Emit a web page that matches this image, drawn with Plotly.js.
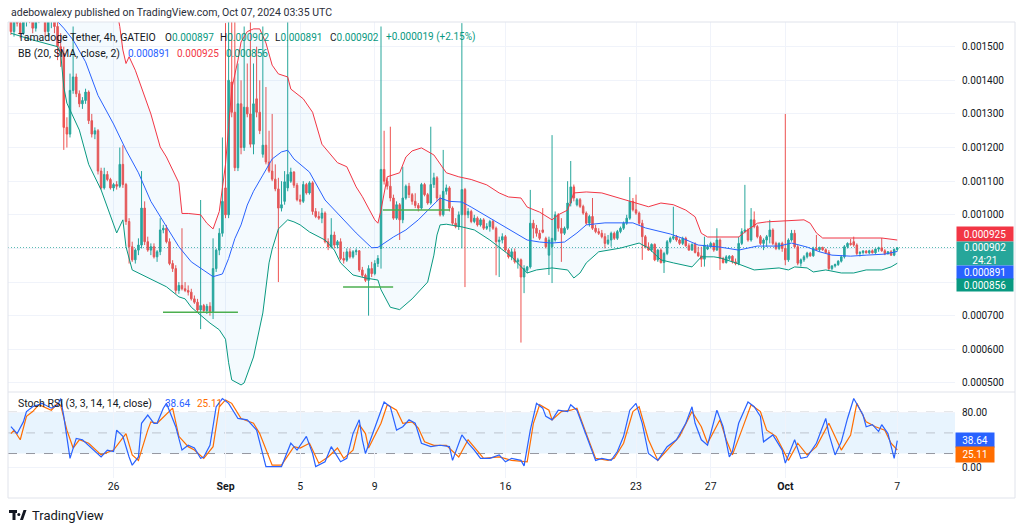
<!DOCTYPE html>
<html><head><meta charset="utf-8">
<script src="https://cdn.plot.ly/plotly-3.0.1.min.js"></script>
<style>html,body{margin:0;padding:0;background:#fff}#chart{width:1024px;height:530px}</style>
</head><body><div id="chart"></div>
<script>
// ---- data (prices in units of 1e-6 USDT), 4h candles starting 2024-08-20 12:00 UTC ----
const startTime = Date.UTC(2024,7,20,12,0,0);
const stepHours = 4;
const priceUnit = 1e-6;

const openV = [
1610,1545,1585,1570,1540,1580,1600,1590,1555,1590,1605,1595,1545,1575,1590,
1560,1500,1480,1260,1240,1370,1410,1360,1330,1340,1365,1280,1240,1250,1130,
1080,1120,1105,1080,1090,1085,1150,1090,980,905,866,895,910,1020,920,
895,905,875,890,955,960,920,855,840,775,790,780,775,770,750,
740,717,730,715,728,712,840,895,945,1080,1000,1395,1305,1140,1330,
1200,1320,1300,1210,1345,1305,1180,1207,1157,1130,1106,1077,1020,1040,1080,
1100,1127,1088,1045,1040,1090,1065,1095,1010,995,990,1005,920,905,940,
910,920,870,865,890,875,890,893,836,820,805,840,825,855,900,
1135,1100,1085,1050,990,1030,985,1050,1085,1060,1040,1028,1020,1090,1060,
1035,1090,1110,1050,1000,1070,1080,1020,975,965,1000,1075,1000,1010,980,
990,970,985,960,965,980,960,920,925,935,895,875,890,860,866,
815,835,845,975,960,945,955,930,880,905,925,1000,960,945,960,
1035,1083,1030,1045,1025,1005,975,995,960,950,945,935,915,925,945,
930,950,960,975,990,1040,1015,1005,975,935,905,895,912,866,895,
858,885,920,930,935,925,915,930,908,895,912,888,878,868,898,
905,915,895,925,870,858,870,877,860,855,915,950,955,925,985,
965,935,915,925,935,955,915,900,915,900,866,925,945,905,856,
866,875,886,878,900,896,903,896,888,840,848,852,862,875,905,
915,920,910,885,888,892,887,893,887,898,902,893,884,890,880,897];

const highV = [
1650,1600,1615,1590,1595,1630,1640,1610,1600,1625,1640,1615,1590,1610,1620,
1585,1540,1500,1290,1420,1560,1420,1370,1350,1375,1370,1300,1260,1255,1140,
1140,1130,1110,1095,1100,1200,1207,1095,990,920,900,930,1130,1040,935,
915,915,895,990,970,970,930,865,850,800,960,800,790,780,760,
750,1044,735,735,740,930,900,960,1230,1570,1620,1600,1580,1450,1400,
1560,1450,1600,1450,1500,1400,1560,1380,1250,1300,1150,1110,1100,1130,1620,
1140,1130,1095,1060,1100,1095,1100,1100,1020,1010,1020,1010,930,990,950,
925,930,890,900,900,895,900,895,845,825,850,860,865,880,1560,
1250,1110,1262,1060,1040,1035,1143,1090,1095,1065,1064,1035,1095,1095,1065,
1262,1125,1115,1060,1193,1090,1085,1025,990,1010,1570,1080,1020,1015,1000,
995,990,990,975,985,985,965,935,945,940,900,900,900,872,870,
850,848,1074,985,970,955,1020,935,935,1237,1010,1005,990,965,1100,
1160,1090,1050,1050,1030,1010,1000,1050,970,960,955,945,940,950,950,
955,965,980,1000,1112,1050,1060,1010,985,940,918,915,915,898,900,
890,925,935,1024,940,930,935,935,915,915,918,905,905,935,912,
920,918,960,930,875,880,880,880,870,935,960,1089,960,1020,1010,
970,940,930,940,985,960,920,918,920,1300,930,955,955,910,870,
880,890,890,905,940,905,905,900,895,850,855,865,880,910,918,
928,935,915,892,895,895,896,897,900,905,931,898,892,895,900,902];

const lowV = [
1535,1530,1560,1525,1535,1560,1570,1540,1545,1570,1580,1530,1530,1555,1540,
1460,1440,1193,1200,1230,1360,1350,1320,1315,1330,1270,1230,1225,1120,1075,
1075,1100,1075,1070,1075,1080,1080,970,855,860,855,880,900,910,890,
880,870,860,880,945,915,850,830,765,765,775,770,760,745,735,
710,660,710,705,700,690,830,880,935,990,990,1290,1130,1130,1180,
1190,1290,1200,1180,1290,1240,1170,1150,1125,1100,1070,800,1010,1030,1070,
1095,1080,1040,1030,1035,1060,1060,1000,990,985,975,915,895,900,900,
900,865,855,860,870,870,880,830,815,800,700,815,820,845,840,
1090,1075,1040,985,985,925,975,1045,1050,1030,1020,1010,1015,1055,1030,
1030,1080,1040,995,995,1060,1010,970,960,955,900,785,990,975,975,
965,965,955,955,950,955,820,815,915,890,870,865,855,840,620,
767,826,840,930,935,925,945,900,821,797,920,950,860,940,955,
1025,1040,1025,1020,1000,970,965,955,945,940,930,900,910,905,925,
925,945,955,970,985,1010,1000,970,866,900,893,890,862,860,855,
827,880,915,925,920,910,910,905,893,893,885,875,845,846,895,
900,890,893,836,855,855,865,855,850,850,910,945,920,920,960,
930,910,895,905,915,910,895,895,890,850,860,920,900,850,846,
860,870,875,875,893,890,893,885,836,835,843,848,858,870,900,
908,905,880,876,882,885,883,885,884,890,890,880,882,878,877,891];

const closeV = [
1545,1585,1570,1540,1580,1600,1590,1555,1590,1605,1595,1545,1575,1590,1560,
1500,1480,1260,1240,1370,1410,1360,1330,1340,1365,1280,1240,1250,1130,1080,
1120,1105,1080,1090,1085,1150,1090,980,905,866,895,910,1020,920,895,
905,875,890,955,960,920,855,840,775,790,780,775,770,750,740,
717,730,715,728,712,840,895,945,1040,1000,1400,1305,1140,1330,1200,
1320,1300,1210,1330,1305,1250,1207,1157,1130,1106,1077,1020,1030,1098,1120,
1127,1088,1045,1040,1090,1065,1095,1010,995,990,1005,920,905,940,910,
920,870,865,890,875,890,893,836,820,805,840,825,855,870,1135,
1100,1085,1050,990,1030,985,1050,1085,1060,1040,1028,1020,1090,1060,1035,
1090,1110,1050,1000,1070,1080,1020,975,965,1000,1075,1000,1010,980,990,
970,985,960,965,980,960,920,925,935,895,875,890,860,866,815,
840,845,975,960,945,930,948,905,925,930,1000,960,945,960,1035,
1083,1050,1045,1025,1005,975,995,960,950,945,935,915,925,945,930,
950,960,975,990,1040,1015,1005,975,935,905,895,912,866,895,858,
885,920,930,935,925,915,930,908,895,912,888,878,868,910,905,
915,895,925,870,858,875,877,860,855,915,950,955,925,985,965,
935,915,925,935,955,915,900,915,900,866,925,945,905,856,866,
875,886,878,900,896,903,896,888,840,848,852,862,875,905,915,
912,910,885,888,892,887,893,887,898,902,893,884,890,880,897,902];

// Bollinger Bands (20, SMA, close, 2): candle index -> value
const bbUpperIdx = [0,8,16,20,26,32,34,35,36,37,38,40,45,48,50,54,55,57,61,63,65,66,67,68,69,70,71,73,74,76,78,80,81,82,84,86,89,90,94,97,100,105,108,111,113,117,118,119,121,125,127,129,132,136,140,144,148,153,157,160,164,166,170,174,176,179,181,185,190,198,201,205,209,213,217,220,222,224,234,236,240,243,255,257,259,261,280,285];
const bbUpperVal = [1650,1645,1635,1665,1680,1650,1610,1560,1490,1450,1470,1430,1300,1202,1172,1095,1004,1004,1000,975,958,985,1010,1080,1150,1260,1374,1460,1514,1545,1553,1553,1530,1511,1445,1419,1410,1374,1345,1305,1210,1155,1143,1083,1054,985,975,1014,1113,1125,1172,1190,1199,1178,1125,1113,1105,1089,1065,1053,1050,1023,1008,985,1000,1014,1065,1068,1065,1044,1035,1024,1035,1030,1014,994,945,934,934,949,975,979,985,975,946,931,931,925];
const bbBasisIdx = [0,8,14,17,20,24,28,33,37,41,45,50,54,58,62,65,68,70,72,74,76,78,81,84,87,89,91,93,96,101,106,111,116,118,123,127,131,135,138,141,145,148,155,162,166,170,174,178,182,185,191,200,204,212,216,221,228,234,240,247,251,256,260,264,270,275,281,285];
const bbBasisVal = [1590,1590,1585,1555,1520,1455,1355,1270,1193,1125,1040,965,905,860,835,816,824,870,929,970,1029,1070,1118,1166,1187,1192,1166,1150,1127,1044,994,946,902,903,934,955,985,1023,1050,1040,1038,1023,985,946,925,919,916,919,946,970,976,976,961,943,930,910,904,895,907,907,916,904,890,880,877,880,883,891];
const bbLowerIdx = [0,7,15,16,17,18,22,25,29,32,34,36,37,39,45,50,54,56,58,61,64,67,69,70,71,74,75,78,81,83,84,86,89,91,93,96,99,101,104,106,110,114,118,119,122,125,129,134,136,137,138,140,145,149,154,157,161,166,169,174,179,181,183,185,189,196,202,205,209,213,219,222,226,228,233,239,247,250,252,256,258,262,267,271,275,280,283,285];
const bbLowerVal = [1540,1520,1500,1480,1380,1332,1252,1150,1074,1000,946,985,905,836,810,786,756,750,725,700,678,658,630,560,509,494,500,577,708,857,898,958,985,979,970,949,934,925,895,857,821,812,806,777,725,718,750,800,880,940,970,972,964,955,925,904,875,827,836,842,836,812,827,857,890,901,916,901,866,857,845,875,875,872,857,836,842,836,845,842,830,836,827,827,836,836,845,856];

// Stoch RSI (3, 3, 14, 14, close): candle index -> value
const stochKIdx = [0,2,4,5,7,10,13,15,16,17,19,21,23,25,29,31,33,34,36,38,39,41,42,44,46,47,49,50,53,55,57,59,61,62,64,66,68,70,73,76,79,82,87,90,92,95,97,98,101,103,106,108,110,112,113,114,117,120,122,124,126,128,130,132,135,138,141,142,145,147,149,151,154,157,159,161,164,165,167,169,171,172,174,176,179,180,182,184,186,188,190,193,195,197,199,201,203,205,208,211,214,217,219,220,222,224,227,229,231,232,234,237,239,241,242,245,248,249,252,254,256,259,262,263,265,267,269,271,274,275,277,279,280,282,284,285];
const stochKVal = [59,49,66,81,88,93,86,90,100,74,13,42,40,32,15,25,23,54,45,15,3,15,64,76,64,64,86,93,59,25,32,28,13,15,32,88,100,93,71,69,54,1,1,35,25,45,20,1,8,30,8,13,49,69,40,20,59,95,88,54,59,69,64,35,30,32,30,10,47,35,25,13,13,18,8,13,10,2,54,93,86,74,69,83,81,91,83,59,35,10,13,10,23,45,83,93,64,20,10,30,40,64,88,64,40,32,83,59,15,23,64,95,88,74,37,47,25,6,40,13,15,35,71,49,18,37,71,100,76,59,62,52,62,49,13,38.64];
const stochDIdx = [0,1,3,5,7,9,13,15,16,18,20,22,25,29,33,37,39,41,44,45,47,50,52,54,57,59,62,65,67,69,71,74,78,80,84,87,91,93,96,99,102,105,107,110,112,114,115,119,121,124,126,129,131,133,136,140,144,147,150,152,157,161,166,168,170,173,174,177,180,182,185,188,192,194,197,200,202,205,208,211,215,219,222,224,228,230,232,235,238,241,243,246,250,253,256,259,263,267,270,272,275,278,281,283,285];
const stochDVal = [49,54,40,74,81,91,83,93,90,54,28,40,35,18,25,49,18,10,54,66,64,78,86,45,30,25,13,30,88,98,93,71,64,49,3,3,30,28,35,6,15,28,13,25,62,49,28,64,91,83,64,66,57,37,32,32,15,40,23,13,15,10,8,64,91,83,69,81,83,86,49,13,10,13,35,81,88,40,10,25,45,81,59,35,69,40,18,54,91,81,54,45,10,35,18,30,64,25,47,93,66,59,54,35,25.11];

// user-drawn horizontal support lines: candle index from/to, price
const supportFrom = [48.9, 106.8, 119.6];
const supportTo = [73.0, 122.9, 141.2];
const supportPrice = [710, 785, 1014];

// axis ticks
const dateTicks = ['2024-08-26','2024-09-01','2024-09-05','2024-09-09','2024-09-16','2024-09-23','2024-09-27','2024-10-01','2024-10-07'];
const dateTickText = ['26','<b>Sep</b>','5','9','16','23','27','<b>Oct</b>','7'];
const priceTicks = [500,600,700,800,900,1000,1100,1200,1300,1400,1500];
const priceTickText = ['0.000500','0.000600','0.000700','','','0.001000','0.001100','0.001200','0.001300','0.001400','0.001500'];
const lastPrice = 902;

// ---- helpers ----
function t(i){ return new Date(startTime + i*stepHours*3600*1000).toISOString().slice(0,16).replace('T',' '); }
const sc = a => a.map(v => v*priceUnit);
const times = closeV.map((_,i)=>t(i));

// pixel -> paper (plot area: x 8..955, y 22..478)
const PL=8, PR=955, PT=22, PB=478;
const px = x => (x-PL)/(PR-PL);
const py = y => (PB-y)/(PB-PT);

const UP='#26a69a', DN='#ef5350';
const traces = [
  {type:'scatter', mode:'lines', x:bbUpperIdx.map(t), y:sc(bbUpperVal), line:{color:'#f23645', width:1}, hoverinfo:'skip', xaxis:'x', yaxis:'y'},
  {type:'scatter', mode:'lines', x:bbLowerIdx.map(t), y:sc(bbLowerVal), line:{color:'#089981', width:1}, fill:'tonexty', fillcolor:'rgba(33,150,243,0.05)', hoverinfo:'skip', xaxis:'x', yaxis:'y'},
  {type:'scatter', mode:'lines', x:bbBasisIdx.map(t), y:sc(bbBasisVal), line:{color:'#2962ff', width:1}, hoverinfo:'skip', xaxis:'x', yaxis:'y'},
];
for (let k=0;k<supportPrice.length;k++){
  traces.push({type:'scatter', mode:'lines', x:[t(supportFrom[k]), t(supportTo[k])], y:[supportPrice[k]*priceUnit, supportPrice[k]*priceUnit], line:{color:'#4caf50', width:1.5}, hoverinfo:'skip', xaxis:'x', yaxis:'y'});
}
traces.push({type:'candlestick', x:times, open:sc(openV), high:sc(highV), low:sc(lowV), close:sc(closeV),
  increasing:{line:{color:UP, width:1}, fillcolor:UP}, decreasing:{line:{color:DN, width:1}, fillcolor:DN},
  whiskerwidth:0, hoverinfo:'skip', xaxis:'x', yaxis:'y'});
traces.push({type:'scatter', mode:'lines', x:stochDIdx.map(t), y:stochDVal, line:{color:'#ff6d00', width:1.2}, hoverinfo:'skip', xaxis:'x', yaxis:'y2'});
traces.push({type:'scatter', mode:'lines', x:stochKIdx.map(t), y:stochKVal, line:{color:'#2962ff', width:1.2}, hoverinfo:'skip', xaxis:'x', yaxis:'y2'});

const txt = '#131722';
const FF = 'Roboto, Arial, sans-serif';
function ann(x,y,text,size,color){ return {xref:'paper', yref:'paper', x:px(x), y:py(y), xanchor:'left', yanchor:'middle', text:text, showarrow:false, font:{family:FF, size:size||10.5, color:color||txt}}; }
const G='#089981';
function box(x,y,w,h,text,bg){ return {xref:'paper', yref:'paper', x:px(x), y:py(y), xanchor:'left', yanchor:'middle', text:text, showarrow:false, bgcolor:bg, width:w, height:h, align:'center', valign:'middle', borderpad:0, font:{family:FF, size:10, color:'#ffffff'}}; }

const annotations = [
  ann(9,12,'adebowalexy published on TradingView.com, Oct 07, 2024 03:35 UTC', 10.5, '#2a2e39'),
  ann(16,37,'Tamadoge Tether, 4h, GATEIO', 10.5),
  ann(163,37,'O<span style="color:'+G+'">0.000897</span>', 10),
  ann(218,37,'H<span style="color:'+G+'">0.000902</span>', 10),
  ann(273,37,'L<span style="color:'+G+'">0.000891</span>', 10),
  ann(328,37,'C<span style="color:'+G+'">0.000902</span>', 10),
  ann(384,37,'<span style="color:'+G+'">+0.000019 (+2.15%)</span>', 10),
  ann(16,53,'BB (20, SMA, close, 2)', 10.5),
  ann(126,53,'<span style="color:#2962ff">0.000891</span>', 10),
  ann(175,53,'<span style="color:#f23645">0.000925</span>', 10),
  ann(224,53,'<span style="color:'+G+'">0.000856</span>', 10),
  ann(16,403,'Stoch RSI (3, 3, 14, 14, close)', 10.5),
  ann(163,403,'<span style="color:#2962ff">38.64</span>', 10),
  ann(195,403,'<span style="color:#ff6d00">25.11</span>', 10),
  ann(30,515,'TradingView', 13),
  box(956,234,56,14,'0.000925','#f23645'),
  box(956,253.5,56,23,'0.000902<br>24:21','#26a69a'),
  box(956,272,56,13,'0.000891','#2962ff'),
  box(956,285,56,12,'0.000856','#089981'),
  box(955,440,38,14,'38.64','#2962ff'),
  box(955,454.5,38,15,'25.11','#ff6d00'),
];

const logoPath = 'M'+px(9)+','+py(510)+' L'+px(17)+','+py(510)+' L'+px(17)+','+py(513)+' L'+px(15.5)+','+py(513)+' L'+px(15.5)+','+py(520)+' L'+px(12.5)+','+py(520)+' L'+px(12.5)+','+py(513)+' L'+px(9)+','+py(513)+' Z '+
  'M'+px(20)+','+py(520)+' L'+px(23.5)+','+py(510)+' L'+px(26.5)+','+py(510)+' L'+px(23)+','+py(520)+' Z';

const shapes = [
  {type:'rect', xref:'paper', yref:'y2', x0:0, x1:1, y0:20, y1:80, fillcolor:'rgba(33,150,243,0.10)', line:{width:0}, layer:'between'},
  {type:'line', xref:'paper', yref:'y2', x0:0, x1:1, y0:80, y1:80, line:{color:'#9598a1', width:1, dash:'dash'}, layer:'between'},
  {type:'line', xref:'paper', yref:'y2', x0:0, x1:1, y0:50, y1:50, line:{color:'rgba(149,152,161,0.5)', width:1, dash:'dash'}, layer:'between'},
  {type:'line', xref:'paper', yref:'y2', x0:0, x1:1, y0:20, y1:20, line:{color:'#9598a1', width:1, dash:'dash'}, layer:'between'},
  {type:'line', xref:'paper', yref:'y', x0:0, x1:1, y0:lastPrice*priceUnit, y1:lastPrice*priceUnit, line:{color:'#26a69a', width:1, dash:'1px,2px'}, layer:'between'},
  {type:'line', xref:'paper', yref:'paper', x0:0, x1:px(1015), y0:py(392), y1:py(392), line:{color:'#e0e3eb', width:1}, layer:'above'},
  {type:'rect', xref:'paper', yref:'paper', x0:0, x1:px(1015), y0:py(498), y1:1, line:{color:'#e0e3eb', width:1}, fillcolor:'rgba(0,0,0,0)', layer:'above'},
  {type:'path', xref:'paper', yref:'paper', path:logoPath, fillcolor:'#131722', line:{width:0}, layer:'above'},
  {type:'circle', xref:'paper', yref:'paper', x0:px(17.3), x1:px(20.3), y0:py(516), y1:py(513), fillcolor:'#131722', line:{width:0}, layer:'above'},
];

const layout = {
  width:1024, height:530,
  margin:{l:PL, r:1024-PR, t:PT, b:530-PB, pad:0},
  paper_bgcolor:'#ffffff', plot_bgcolor:'#ffffff',
  showlegend:false, dragmode:false, hovermode:false,
  font:{family:FF, size:10, color:txt},
  xaxis:{type:'date', anchor:'y2', range:['2024-08-20 08:15','2024-10-10 02:15'], tickmode:'array', tickvals:dateTicks, ticktext:dateTickText,
    showgrid:true, gridcolor:'#f0f3fa', gridwidth:1, zeroline:false, showline:false, ticks:'', rangeslider:{visible:false},
    tickfont:{family:FF, size:10.5, color:txt}, fixedrange:true},
  yaxis:{domain:[0.1886,1], range:[0.000473,0.0015734], side:'right', tickmode:'array', tickvals:sc(priceTicks), ticktext:priceTickText,
    showgrid:true, gridcolor:'#f0f3fa', zeroline:false, showline:false, ticks:'', ticklabelstandoff:6, tickfont:{family:FF, size:10, color:txt}, fixedrange:true},
  yaxis2:{domain:[0,0.1886], range:[-15.6,109.5], side:'right', tickmode:'array', tickvals:[0,80], ticktext:['0.00','80.00'],
    showgrid:true, gridcolor:'#f0f3fa', zeroline:false, showline:false, ticks:'', ticklabelstandoff:6, tickfont:{family:FF, size:10, color:txt}, fixedrange:true},
  annotations:annotations,
  shapes:shapes
};

Plotly.newPlot('chart', traces, layout, {displayModeBar:false, staticPlot:true});
</script>
</body></html>
